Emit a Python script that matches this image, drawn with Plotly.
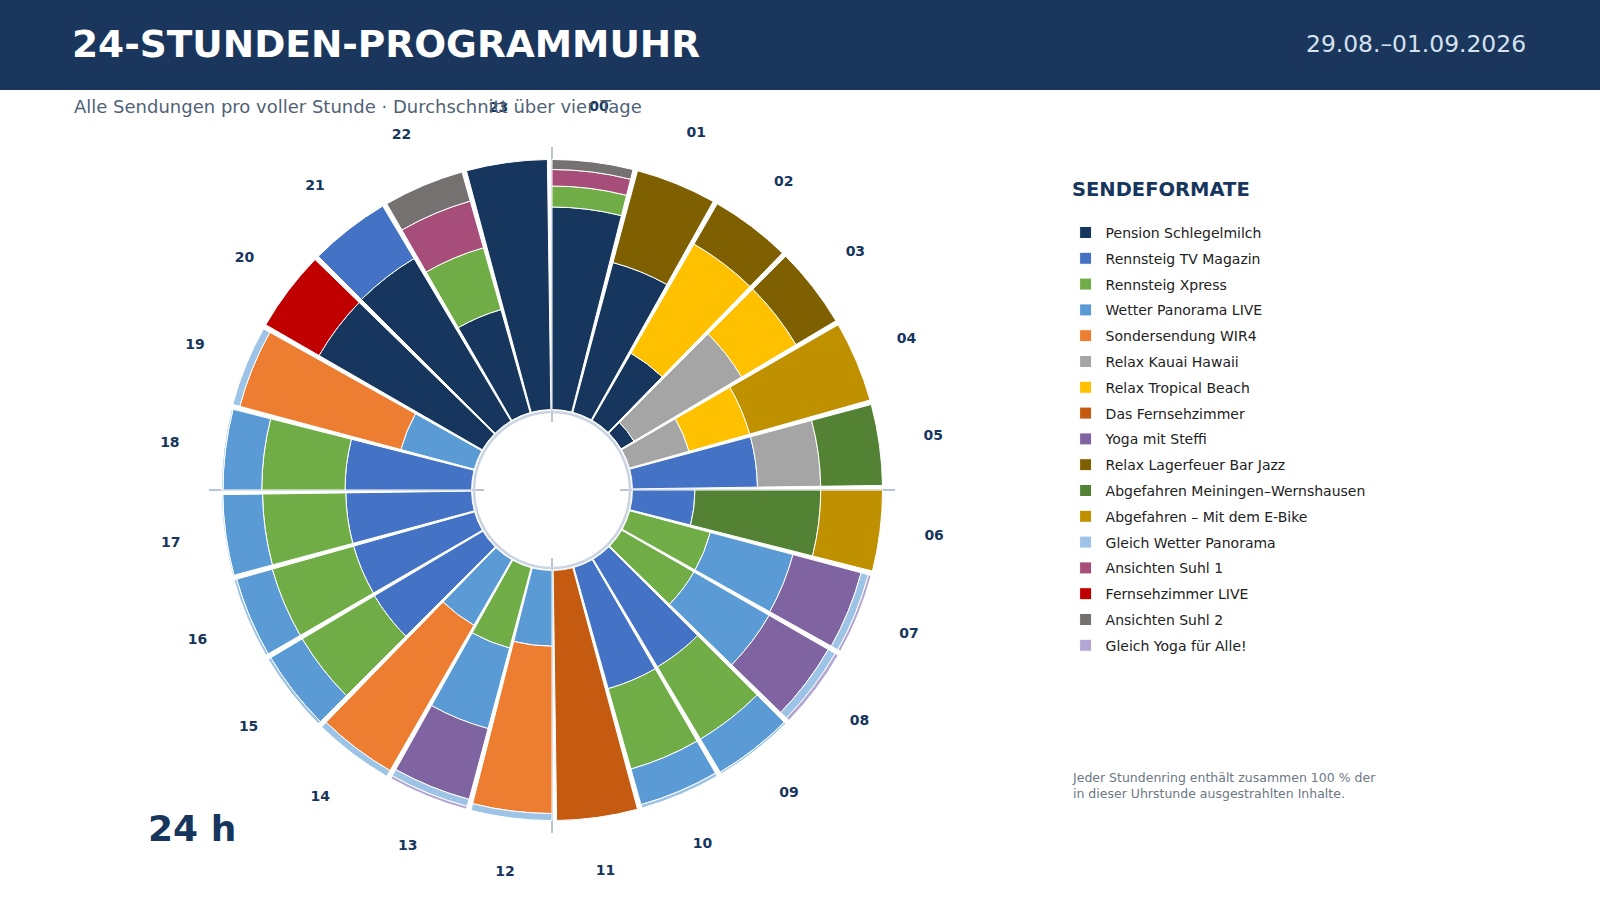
import numpy as np
import plotly.graph_objects as go

# Stunden 00..23
hours = list(range(24))
hour_labels = [f"{h:02d}" for h in hours]

# Anteile je Sendeformat und Stunde (Prozent, Durchschnitt über vier Tage)
pension = [81, 62, 31, 6, 0, 0, 0, 0, 0, 0, 0, 0, 0, 0, 0, 0, 0, 0, 0, 0, 75.4, 75.6, 42.8, 100]
tv_magazin = [0, 0, 0, 0, 0, 50, 25, 0, 0, 50.2, 50.4, 0, 0, 0, 0, 50.5, 50.3, 50.3, 50.6, 0, 0, 24.4, 0, 0]
xpress = [8.4, 0, 0, 0, 0, 0, 0, 33.4, 33.4, 33.6, 33.4, 0, 0, 33.3, 0, 33.6, 33.8, 33.3, 33.3, 0, 0, 0, 25.7, 0]
wetter_live = [0, 0, 0, 0, 0, 0, 0, 34.2, 34.7, 15.4, 14.8, 0, 30.3, 33.3, 30.3, 14.7, 14.8, 15.9, 15.5, 30.4, 0, 0, 0, 0]
wir4 = [0, 0, 0, 0, 0, 0, 0, 0, 0, 0, 0, 0, 66.9, 0, 67.1, 0, 0, 0, 0, 66.7, 0, 0, 0, 0]
kauai = [0, 0, 0, 50.1, 24.8, 25.3, 0, 0, 0, 0, 0, 0, 0, 0, 0, 0, 0, 0, 0, 0, 0, 0, 0, 0]
tropical = [0, 0, 50.4, 25.3, 25.2, 0, 0, 0, 0, 0, 0, 0, 0, 0, 0, 0, 0, 0, 0, 0, 0, 0, 0, 0]
fernsehzimmer = [0, 0, 0, 0, 0, 0, 0, 0, 0, 0, 0, 100, 0, 0, 0, 0, 0, 0, 0, 0, 0, 0, 0, 0]
yoga = [0, 0, 0, 0, 0, 0, 0, 28.2, 27.3, 0, 0, 0, 0, 29.3, 0, 0, 0, 0, 0, 0, 0, 0, 0, 0]
lagerfeuer = [0, 38, 18.6, 18.6, 0, 0, 0, 0, 0, 0, 0, 0, 0, 0, 0, 0, 0, 0, 0, 0, 0, 0, 0, 0]
meiningen = [0, 0, 0, 0, 0, 24.7, 50.3, 0, 0, 0, 0, 0, 0, 0, 0, 0, 0, 0, 0, 0, 0, 0, 0, 0]
ebike = [0, 0, 0, 0, 50, 0, 24.7, 0, 0, 0, 0, 0, 0, 0, 0, 0, 0, 0, 0, 0, 0, 0, 0, 0]
gleich_wetter = [0, 0, 0, 0, 0, 0, 0, 3.0, 3.2, 0.8, 1.4, 0, 2.8, 2.9, 2.6, 1.2, 1.1, 0.5, 0.6, 2.9, 0, 0, 0, 0]
suhl1 = [6.6, 0, 0, 0, 0, 0, 0, 0, 0, 0, 0, 0, 0, 0, 0, 0, 0, 0, 0, 0, 0, 0, 19.4, 0]
fz_live = [0, 0, 0, 0, 0, 0, 0, 0, 0, 0, 0, 0, 0, 0, 0, 0, 0, 0, 0, 0, 24.6, 0, 0, 0]
suhl2 = [4.0, 0, 0, 0, 0, 0, 0, 0, 0, 0, 0, 0, 0, 0, 0, 0, 0, 0, 0, 0, 0, 0, 12.1, 0]
gleich_yoga = [0, 0, 0, 0, 0, 0, 0, 1.2, 1.4, 0, 0, 0, 0, 1.2, 0, 0, 0, 0, 0, 0, 0, 0, 0, 0]

formats = [
    ("Pension Schlegelmilch", pension, "#17365d"),
    ("Rennsteig TV Magazin", tv_magazin, "#4472c4"),
    ("Rennsteig Xpress", xpress, "#70ad47"),
    ("Wetter Panorama LIVE", wetter_live, "#5b9bd5"),
    ("Sondersendung WIR4", wir4, "#ed7d31"),
    ("Relax Kauai Hawaii", kauai, "#a5a5a5"),
    ("Relax Tropical Beach", tropical, "#ffc000"),
    ("Das Fernsehzimmer", fernsehzimmer, "#c55a11"),
    ("Yoga mit Steffi", yoga, "#8064a2"),
    ("Relax Lagerfeuer Bar Jazz", lagerfeuer, "#7f6000"),
    ("Abgefahren Meiningen–Wernshausen", meiningen, "#548235"),
    ("Abgefahren – Mit dem E-Bike", ebike, "#bf9000"),
    ("Gleich Wetter Panorama", gleich_wetter, "#9dc3e6"),
    ("Ansichten Suhl 1", suhl1, "#a64d79"),
    ("Fernsehzimmer LIVE", fz_live, "#c00000"),
    ("Ansichten Suhl 2", suhl2, "#767171"),
    ("Gleich Yoga für Alle!", gleich_yoga, "#b4a7d6"),
]

NAVY = "#17365d"
FONT = "DejaVu Sans"
BAR_W = 14.2
theta_start = [h * 15 for h in hours]
theta_mid = [h * 15 + 7 for h in hours]
RING_R = -1      # feiner Ring um das Loch
LABEL_R = 385    # Stundenbeschriftung (äußere Ebene in Pixeln)

fig = go.Figure()

for i, (name, vals, color) in enumerate(formats):
    fig.add_trace(go.Barpolar(
        r=vals, theta=theta_start, width=BAR_W, offset=0,
        name=name, legendgroup=f"g{i}",
        marker=dict(color=color, line=dict(color="white", width=1)),
        hovertemplate=name + "<br>%{customdata} Uhr: %{r:.1f} %<extra></extra>",
        customdata=hour_labels,
        subplot="polar",
    ))

# Ring um das Loch in der Mitte
ring_theta = np.linspace(0, 360, 241)
fig.add_trace(go.Scatterpolar(
    r=[RING_R] * len(ring_theta), theta=ring_theta, mode="lines",
    line=dict(color="#c9d4e0", width=2.5), hoverinfo="skip", showlegend=False,
    subplot="polar",
))

# Stundenbeschriftung auf einer größeren, unsichtbaren Polarebene
fig.add_trace(go.Scatterpolar(
    r=[LABEL_R] * 24, theta=theta_mid, mode="text", text=hour_labels,
    textposition="middle center",
    textfont=dict(family=FONT, size=14, color=NAVY, weight="bold"),
    hoverinfo="skip", showlegend=False, subplot="polar2",
))

fig.update_layout(
    width=1600, height=900,
    paper_bgcolor="white",
    margin=dict(l=0, r=0, t=0, b=0),
    font=dict(family=FONT, color="#222222"),
    polar=dict(
        domain=dict(x=[0.1306, 0.5594], y=[0.0744, 0.8367]),
        hole=0.198,
        bgcolor="white",
        barmode="stack",
        radialaxis=dict(range=[-5, 105], visible=False),
        angularaxis=dict(
            direction="clockwise", rotation=90,
            tickvals=[0, 90, 180, 270], showticklabels=False, ticks="",
            showgrid=True, gridcolor="#b9c5d3", gridwidth=2,
            showline=False,
        ),
    ),
    polar2=dict(
        domain=dict(x=[0.095, 0.595], y=[0.0111, 0.9]),
        bgcolor="rgba(0,0,0,0)",
        radialaxis=dict(range=[0, 400], visible=False),
        angularaxis=dict(direction="clockwise", rotation=90, visible=False),
    ),
    legend=dict(
        x=0.666, y=0.759, xanchor="left", yanchor="top",
        font=dict(family=FONT, size=14, color="#222222"),
        tracegroupgap=4.6, bgcolor="rgba(0,0,0,0)",
    ),
    shapes=[dict(type="rect", xref="paper", yref="paper", x0=0, x1=1, y0=0.9, y1=1,
                 fillcolor="#1a365d", line=dict(width=0), layer="below")],
    annotations=[
        dict(text="<b>24-STUNDEN-PROGRAMMUHR</b>", xref="paper", yref="paper",
             x=0.044, y=0.951, xanchor="left", yanchor="middle", showarrow=False,
             font=dict(family=FONT, size=37.5, color="white")),
        dict(text="29.08.–01.09.2026", xref="paper", yref="paper",
             x=0.955, y=0.951, xanchor="right", yanchor="middle", showarrow=False,
             font=dict(family=FONT, size=23.4, color="#d6e2ee")),
        dict(text="Alle Sendungen pro voller Stunde · Durchschnitt über vier Tage",
             xref="paper", yref="paper", x=0.045, y=0.882, xanchor="left", yanchor="middle",
             showarrow=False, font=dict(family=FONT, size=18, color="#4f6277")),
        dict(text="<b>SENDEFORMATE</b>", xref="paper", yref="paper",
             x=0.669, y=0.789, xanchor="left", yanchor="middle", showarrow=False,
             font=dict(family=FONT, size=19.5, color=NAVY)),
        dict(text="Jeder Stundenring enthält zusammen 100 % der<br>in dieser Uhrstunde ausgestrahlten Inhalte.",
             xref="paper", yref="paper", x=0.669, y=0.127, xanchor="left", yanchor="middle",
             align="left", showarrow=False, font=dict(family=FONT, size=12.5, color="#6b7785")),
        dict(text="<b>24 h</b>", xref="paper", yref="paper",
             x=0.091, y=0.079, xanchor="left", yanchor="middle", showarrow=False,
             font=dict(family=FONT, size=36, color=NAVY)),
    ],
)

fig.write_html("out.html", config={"displayModeBar": False},
               post_script="document.body.style.margin='0';")
